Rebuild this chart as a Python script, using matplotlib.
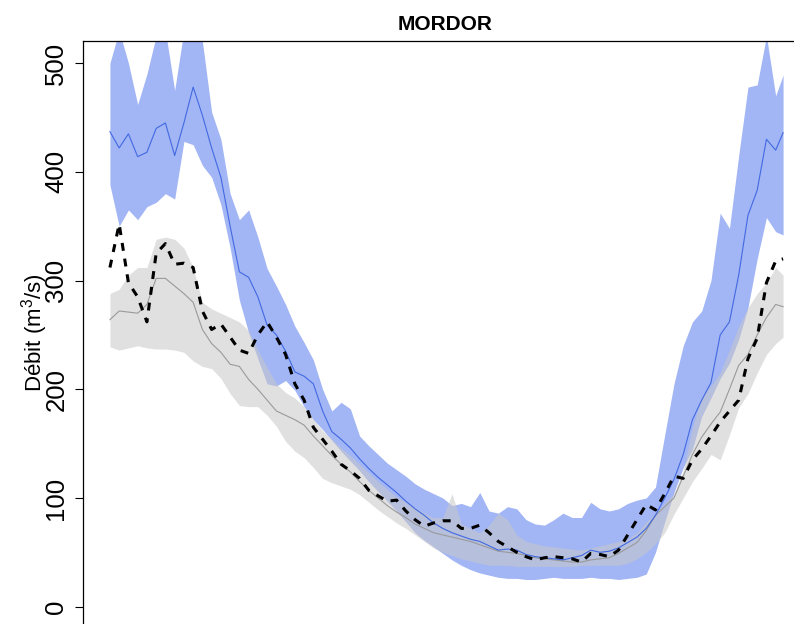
import matplotlib
matplotlib.use("Agg")
import matplotlib.pyplot as plt

plt.rcParams['font.family'] = ['Liberation Sans', 'DejaVu Sans']
plt.rcParams['mathtext.fontset'] = 'custom'
plt.rcParams['mathtext.rm'] = 'Liberation Sans'
plt.rcParams['mathtext.default'] = 'regular'

# day of year (0..364), sampled every 5 days
days = list(range(0, 365, 5)) + [364]

blue_line = [437, 422, 435, 414, 418, 440, 445, 415, 445, 478,
             452, 422, 395, 350, 308, 303, 285, 259, 250, 235,
             216, 212, 205, 180, 161, 154, 146, 136, 127, 119,
             112, 105, 97, 90, 84, 77, 72, 68, 65, 62,
             60, 56, 52, 53, 52, 48, 46, 45, 44, 43,
             45, 47, 52, 50, 51, 54, 59, 64, 72, 84,
             100, 117, 140, 172, 190, 206, 250, 262, 305, 360,
             383, 430, 420, 436]

blue_upper = [500, 530, 500, 462, 490, 525, 530, 475, 530, 530,
              520, 455, 430, 380, 356, 365, 340, 311, 295, 278,
              258, 243, 227, 200, 180, 188, 182, 157, 148, 140,
              132, 126, 120, 113, 108, 104, 100, 93, 95, 92,
              105, 88, 86, 92, 90, 80, 76, 75, 80, 86,
              82, 82, 96, 90, 88, 90, 95, 98, 100, 110,
              158, 205, 240, 262, 272, 300, 362, 348, 415, 478,
              480, 525, 470, 489]

blue_lower = [388, 350, 365, 356, 368, 372, 380, 375, 428, 425,
              406, 395, 370, 330, 282, 252, 228, 205, 203, 208,
              199, 184, 172, 163, 153, 143, 134, 125, 115, 106,
              97, 88, 78, 68, 61, 55, 49, 43, 38, 34,
              31, 29, 27, 26, 26, 25, 25, 26, 27, 26,
              26, 26, 27, 26, 26, 25, 26, 27, 30, 50,
              78, 105, 128, 145, 175, 192, 210, 224, 246, 275,
              320, 358, 345, 342]

grey_line = [264, 272, 271, 270, 278, 302, 302, 295, 288, 280,
             255, 242, 234, 223, 221, 209, 200, 190, 180, 176,
             172, 167, 157, 148, 139, 131, 124, 115, 107, 100,
             93, 87, 82, 76, 72, 68, 66, 64, 62, 60,
             57, 54, 51, 50, 49, 47, 45, 44, 43, 42,
             41, 41, 43, 44, 45, 49, 54, 59, 70, 84,
             92, 100, 120, 140, 156, 168, 179, 200, 222, 232,
             250, 266, 278, 276]

grey_upper = [288, 292, 305, 312, 312, 338, 340, 338, 330, 312,
              280, 274, 270, 266, 262, 254, 236, 220, 205, 197,
              192, 184, 172, 162, 154, 146, 139, 131, 123, 115,
              108, 101, 96, 91, 86, 82, 82, 104, 76, 72,
              68, 75, 86, 80, 66, 60, 58, 56, 55, 54,
              53, 52, 54, 56, 58, 60, 62, 68, 78, 86,
              95, 104, 125, 165, 193, 203, 215, 236, 258, 275,
              288, 298, 312, 305]

grey_lower = [239, 236, 238, 240, 238, 237, 237, 236, 234, 226,
              221, 219, 210, 196, 185, 184, 184, 176, 166, 152,
              143, 137, 128, 118, 114, 111, 108, 103, 96, 89,
              83, 77, 72, 66, 60, 54, 50, 47, 44, 42,
              40, 38, 38, 38, 37, 37, 37, 37, 37, 37,
              37, 38, 38, 38, 38, 38, 40, 44, 50, 58,
              68, 85, 100, 115, 127, 140, 135, 158, 183, 196,
              215, 232, 242, 248]

obs = [312, 352, 298, 285, 262, 325, 334, 315, 316, 312,
       272, 255, 260, 248, 236, 233, 250, 262, 248, 232,
       205, 190, 165, 154, 143, 131, 125, 118, 107, 102,
       97, 98, 88, 80, 74, 77, 79, 79, 72, 72,
       75, 68, 60, 55, 50, 46, 43, 45, 46, 45,
       44, 41, 49, 48, 46, 52, 66, 80, 94, 89,
       104, 120, 118, 135, 145, 157, 170, 180, 190, 228,
       247, 298, 318, 320]

yticks = [0, 100, 200, 300, 400, 500]
title = "MORDOR"
ylabel = "Débit (m$^{3}$/s)"

W, H = 794, 624
fig = plt.figure(figsize=(W / 100, H / 100), dpi=100)
ax = fig.add_axes([83 / W, 1 - 626 / H, 727 / W, 585 / H])

ax.fill_between(days, blue_lower, blue_upper, color='#a2b5f5', lw=0)
ax.fill_between(days, grey_lower, grey_upper, color='#c8c8c8', alpha=0.55, lw=0)
ax.plot(days, grey_line, color='#9a9a9a', lw=0.8)
ax.plot(days, blue_line, color='#4169e1', lw=0.8)
ax.plot(days, obs, color='black', lw=2.2, dashes=(2.6, 2.6))

ax.set_xlim(-14.56, 378.56)
ax.set_ylim(-17.8, 520.4)
ax.set_xticks([])
ax.set_yticks(yticks)
ax.set_yticklabels([str(v) for v in yticks], rotation=90, va='center', fontsize=18.5)
ax.tick_params(axis='y', length=6, width=0.8, pad=4.5, colors='black')
for s in ax.spines.values():
    s.set_linewidth(0.9)

fig.text(445 / W, 1 - 30 / H, title, ha='center', va='baseline',
         fontsize=15, fontweight='bold')
fig.text(42 / W, 1 - 333 / H, ylabel, rotation=90, rotation_mode='anchor',
         ha='center', va='baseline', fontsize=16)

fig.savefig('out.png', dpi=100)
